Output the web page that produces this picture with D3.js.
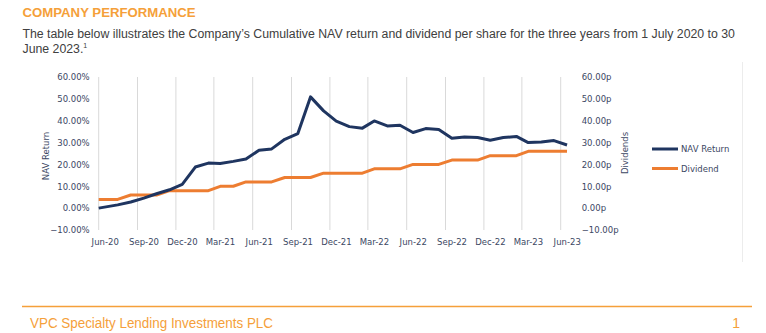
<!DOCTYPE html>
<html>
<head>
<meta charset="utf-8">
<script src="https://cdn.jsdelivr.net/npm/d3@7"></script>
<style>
  body { margin: 0; background: #fff; }
  .ax text { font-family: "DejaVu Sans", Verdana, sans-serif; font-size: 8.5px; fill: #3b4763; }
</style>
</head>
<body>
<div id="chart-area"></div>
<script>
// data points: inception, then mid-month readings Jul-20 .. Jun-23
const dates = ["2020-06-01", "2020-07-16", "2020-08-16", "2020-09-16", "2020-10-16", "2020-11-16", "2020-12-16",
  "2021-01-16", "2021-02-16", "2021-03-16", "2021-04-16", "2021-05-16", "2021-06-16", "2021-07-16", "2021-08-16",
  "2021-09-16", "2021-10-16", "2021-11-16", "2021-12-16", "2022-01-16", "2022-02-16", "2022-03-16", "2022-04-16",
  "2022-05-16", "2022-06-16", "2022-07-16", "2022-08-16", "2022-09-16", "2022-10-16", "2022-11-16", "2022-12-16",
  "2023-01-16", "2023-02-16", "2023-03-16", "2023-04-16", "2023-05-16", "2023-06-16"];
const navReturn = [0.0, 1.5, 2.8, 4.6, 6.6, 8.4, 10.9, 18.8, 20.6, 20.4, 21.4, 22.5, 26.5, 27.1, 31.5, 34.1, 50.9, 44.5,
  39.8, 37.3, 36.6, 39.9, 37.6, 37.9, 34.6, 36.4, 36.0, 32.0, 32.6, 32.3, 31.1, 32.3, 32.8, 30.0, 30.3, 30.9, 28.9];
const dividend = [4, 4, 6, 6, 6, 8, 8, 8, 8, 10, 10, 12, 12, 12, 14, 14, 14, 16, 16, 16, 16, 18, 18, 18, 20, 20, 20,
  22, 22, 22, 24, 24, 24, 26, 26, 26, 26];
const tickDates = ["2020-06-01", "2020-09-01", "2020-12-01", "2021-03-01", "2021-06-01", "2021-09-01", "2021-12-01",
  "2022-03-01", "2022-06-01", "2022-09-01", "2022-12-01", "2023-03-01", "2023-06-01"];
const tickLabels = ["Jun-20", "Sep-20", "Dec-20", "Mar-21", "Jun-21", "Sep-21", "Dec-21", "Mar-22", "Jun-22",
  "Sep-22", "Dec-22", "Mar-23", "Jun-23"];
const yTicks = [-10, 0, 10, 20, 30, 40, 50, 60];

const width = 766, height = 333;
const navy = "#1f3560", orange = "#ed7d31", brand = "#f5a03a";

const svg = d3.select("#chart-area").append("svg")
  .attr("width", width).attr("height", height);

// heading + intro text
svg.append("text").attr("x", 22.5).attr("y", 16.8)
  .style("font-family", "'Liberation Sans', Arial, sans-serif").style("font-size", "13.2px")
  .style("font-weight", "bold").style("fill", brand).text("COMPANY PERFORMANCE");

const para = svg.append("g")
  .style("font-family", "'Liberation Sans', Arial, sans-serif").style("font-size", "12.3px").style("fill", "#404040");
para.append("text").attr("x", 22.5).attr("y", 37.5)
  .text("The table below illustrates the Company\u2019s Cumulative NAV return and dividend per share for the three years from 1 July 2020 to 30");
const l2 = para.append("text").attr("x", 22.5).attr("y", 52.5).text("June 2023.");
l2.append("tspan").attr("dy", -5).style("font-size", "7px").text("1");

// scales
const parse = d3.utcParse("%Y-%m-%d");
const x = d3.scaleUtc()
  .domain([parse(tickDates[0]), parse(tickDates[tickDates.length - 1])])
  .range([98.7, 560.7]);
const yL = d3.scaleLinear().domain([-10, 60]).range([230, 77]);
const yR = d3.scaleLinear().domain([-10, 60]).range([230, 77]);

// vertical gridlines
svg.append("g").selectAll("line")
  .data(tickDates)
  .enter().append("line")
  .attr("x1", d => x(parse(d))).attr("x2", d => x(parse(d)))
  .attr("y1", yL(60)).attr("y2", yL(-10))
  .attr("stroke", "#d9d9d9").attr("stroke-width", 1);

// x axis labels
const xAxis = d3.axisBottom(x)
  .tickValues(tickDates.map(parse))
  .tickSize(0)
  .tickFormat((d, i) => tickLabels[i]);
svg.append("g").attr("class", "ax")
  .attr("transform", "translate(0," + (yL(-10) + 6) + ")")
  .call(xAxis)
  .call(g => g.select(".domain").remove())
  .selectAll("text").attr("dx", 6);

// left axis
const yAxisL = d3.axisLeft(yL).tickValues(yTicks).tickSize(0).tickPadding(9)
  .tickFormat(d => d3.format(".2f")(d) + "%");
svg.append("g").attr("class", "ax")
  .attr("transform", "translate(98.7,0)")
  .call(yAxisL)
  .call(g => g.select(".domain").remove());

// right axis
const yAxisR = d3.axisRight(yR).tickValues(yTicks).tickSize(0).tickPadding(21)
  .tickFormat(d => d3.format(".2f")(d) + "p");
svg.append("g").attr("class", "ax")
  .attr("transform", "translate(560.7,0)")
  .call(yAxisR)
  .call(g => g.select(".domain").remove());

// axis titles
const titles = svg.append("g").attr("class", "ax");
titles.append("text").attr("transform", "translate(49,156) rotate(-90)")
  .attr("text-anchor", "middle").text("NAV Return");
titles.append("text").attr("transform", "translate(628,153) rotate(-90)")
  .attr("text-anchor", "middle").text("Dividends");

// lines
const rows = dates.map((d, i) => ({ date: parse(d), nav: navReturn[i], div: dividend[i] }));

svg.append("path").datum(rows)
  .attr("fill", "none").attr("stroke", orange).attr("stroke-width", 3).attr("stroke-linejoin", "round")
  .attr("d", d3.line().x(d => x(d.date)).y(d => yR(d.div)));

svg.append("path").datum(rows)
  .attr("fill", "none").attr("stroke", navy).attr("stroke-width", 3).attr("stroke-linejoin", "round")
  .attr("d", d3.line().x(d => x(d.date)).y(d => yL(d.nav)));

// legend
const legend = svg.append("g").attr("class", "ax");
[["NAV Return", navy, 149], ["Dividend", orange, 168.5]].forEach(([name, col, ly]) => {
  legend.append("line").attr("x1", 652).attr("x2", 678).attr("y1", ly).attr("y2", ly)
    .attr("stroke", col).attr("stroke-width", 3);
  legend.append("text").attr("x", 681).attr("y", ly + 3).text(name);
});

// chart frame edge
svg.append("line").attr("x1", 742.5).attr("x2", 742.5).attr("y1", 62).attr("y2", 262)
  .attr("stroke", "#ececec").attr("stroke-width", 1);

// footer
svg.append("line").attr("x1", 22).attr("x2", 752).attr("y1", 306.5).attr("y2", 306.5)
  .attr("stroke", brand).attr("stroke-width", 1.5);
const foot = svg.append("g")
  .style("font-family", "'Liberation Sans', Arial, sans-serif")
  .style("font-size", "14px").style("fill", brand);
foot.append("text").attr("x", 30).attr("y", 328)
  .attr("textLength", 243).attr("lengthAdjust", "spacingAndGlyphs")
  .text("VPC Specialty Lending Investments PLC");
foot.append("text").attr("x", 740).attr("y", 328).attr("text-anchor", "end").text("1");
</script>
</body>
</html>
